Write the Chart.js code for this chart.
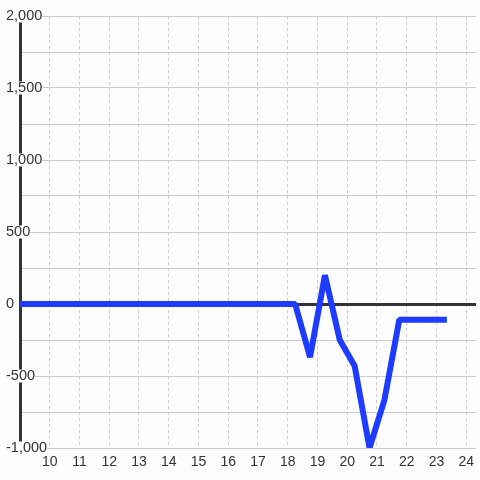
<!DOCTYPE html>
<html>
<head>
<meta charset="utf-8">
<script src="https://cdn.jsdelivr.net/npm/chart.js@4"></script>
<style>
  html, body { margin: 0; padding: 0; background: #fcfdfc; }
  #wrap { width: 480px; height: 480px; }
</style>
</head>
<body>
<div id="wrap"><canvas id="chart"></canvas></div>
<script>
// hours of the day and the value at each point
const hours = [8.75, 18.25, 18.75, 19.25, 19.75, 20.25, 20.75, 21.25, 21.75, 23.35];
const values = [0, 0, -370, 200, -250, -430, -1000, -667, -110, -110];

// axis ticks
const xTicks = [10, 11, 12, 13, 14, 15, 16, 17, 18, 19, 20, 21, 22, 23, 24];
const yTicks = [-1000, -750, -500, -250, 0, 250, 500, 750, 1000, 1250, 1500, 1750, 2000];

const background = '#fcfdfc';
const ink = '#333333';

const paper = {
  id: 'paper',
  beforeDraw(chart) {
    const ctx = chart.ctx;
    ctx.save();
    ctx.fillStyle = background;
    ctx.fillRect(0, 0, chart.width, chart.height);
    ctx.restore();
  }
};

const labelled = (value) => value % 500 === 0;

new Chart(document.getElementById('chart'), {
  type: 'line',
  data: {
    datasets: [{
      data: hours.map((x, i) => ({ x, y: values[i] })),
      borderColor: '#1e3cff',
      borderWidth: 6,
      borderJoinStyle: 'bevel',
      pointRadius: 0,
      tension: 0,
    }]
  },
  options: {
    responsive: true,
    maintainAspectRatio: false,
    animation: false,
    layout: { padding: { top: 16, right: 0, bottom: 0, left: 0 } },
    plugins: {
      legend: { display: false },
      tooltip: { enabled: false },
    },
    scales: {
      x: {
        type: 'linear',
        min: 9,
        max: 24.333,
        afterBuildTicks: (scale) => { scale.ticks = xTicks.map(value => ({ value })); },
        afterFit: (scale) => { scale.height = 32; },
        grid: { color: '#cccccc', drawTicks: false },
        border: { display: false, dash: [3, 3] },
        ticks: {
          autoSkip: false,
          maxRotation: 0,
          padding: 6,
          color: ink,
          font: { family: 'Liberation Sans', size: 14 },
        },
      },
      y: {
        min: -1000,
        max: 2000,
        afterBuildTicks: (scale) => { scale.ticks = yTicks.map(value => ({ value })); },
        afterFit: (scale) => { scale.width = 20; },
        grid: {
          drawTicks: false,
          color: (ctx) => ctx.tick && ctx.tick.value === 0 ? ink : '#cccccc',
          lineWidth: (ctx) => ctx.tick && ctx.tick.value === 0 ? 3 : 1,
        },
        border: { color: ink, width: 3 },
        ticks: {
          autoSkip: false,
          mirror: true,
          crossAlign: 'near',
          padding: -14,
          color: ink,
          font: { family: 'Liberation Sans', size: 14.5, lineHeight: 0.9 },
          showLabelBackdrop: (ctx) => labelled(ctx.tick.value),
          backdropColor: background,
          // the lowest label clears a bit more of the axis line above it
          backdropPadding: (ctx) => ({ top: ctx.tick.value === yTicks[0] ? 10 : 0, bottom: 0, left: 2, right: 2 }),
          callback: (value) => labelled(value) ? value.toLocaleString('en-US') : '',
        },
      },
    },
  },
  plugins: [paper],
});
</script>
</body>
</html>
